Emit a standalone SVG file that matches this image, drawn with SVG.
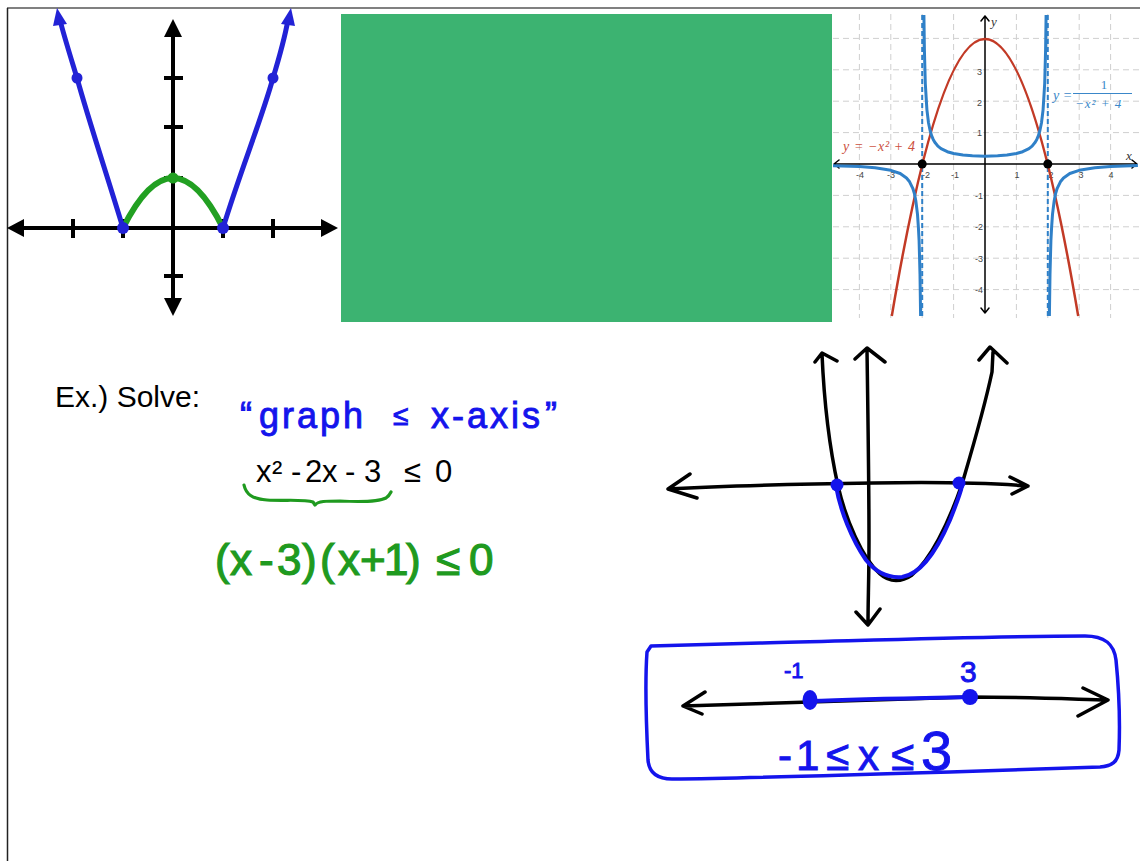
<svg xmlns="http://www.w3.org/2000/svg" width="1140" height="861" viewBox="0 0 1140 861">
<style>
.k{fill:none;stroke:#000;stroke-linecap:round;stroke-linejoin:round}
.ax{fill:none;stroke:#000;stroke-width:4}
.axf{fill:#000}
.gb{fill:none;stroke:#2222d6;stroke-width:5;stroke-linecap:round}
.gbf{fill:#2222d6}
.gg{fill:none;stroke:#22a022;stroke-width:6;stroke-linecap:round}
.grid{stroke:#cfcfcf;stroke-width:1;stroke-dasharray:6 4}
.red{fill:none;stroke:#c23a26;stroke-width:2.5}
.blu{fill:none;stroke:#2f80c8;stroke-width:3;stroke-linejoin:round}
.asy{stroke:#2f80c8;stroke-width:2;stroke-dasharray:5 3}
.tick{font-family:"Liberation Sans",Arial,sans-serif;font-size:9px;fill:#444}
.hb{fill:none;stroke:#1414ec;stroke-linecap:round;stroke-linejoin:round}
.hbt{font-family:"Liberation Sans",Arial,sans-serif;fill:#1414ec;stroke:#1414ec;stroke-width:0.9}
.hgt{font-family:"Liberation Sans",Arial,sans-serif;fill:#1f9a1f;stroke:#1f9a1f;stroke-width:1.2}
.prt{font-family:"Liberation Sans",Arial,sans-serif;fill:#000}
.ser{font-family:"Liberation Serif","Times New Roman",serif}
</style>
<defs>
<clipPath id="clipR"><rect x="833" y="14" width="307" height="304"/></clipPath>
</defs>
<rect width="1140" height="861" fill="#fff"/>
<g id="page-border">
<line x1="7" y1="8" x2="1140" y2="8" stroke="#808080" stroke-width="2"/>
<line x1="7.5" y1="8" x2="7.5" y2="861" stroke="#222" stroke-width="1.5"/>
</g>
<g id="graph-abs">
<path class="ax" d="M16,228 H330 M173,28 V308"/>
<polygon class="axf" points="7,228 24,219 24,237"/>
<polygon class="axf" points="338,228 321,219 321,237"/>
<polygon class="axf" points="173,19 164,37 182,37"/>
<polygon class="axf" points="173,316 164,298 182,298"/>
<path class="ax" stroke-width="3" d="M73,219 V238 M123,219 V238 M223,219 V238 M273,219 V238 M164,78 H183 M164,127 H183 M164,178 H183 M164,276 H183"/>
<path class="gg" d="M123,228 Q173,128 223,228"/>
<path class="gb" d="M123,228 C106,172 88,118 77,78 C70,55 64,36 60,20 M223,228 C240,172 262,118 273,78 C280,55 285,36 288,20"/>
<polygon class="gbf" points="57,8 53,26 67,24"/>
<polygon class="gbf" points="291,8 295,26 281,24"/>
<circle class="gbf" cx="123" cy="228" r="6"/>
<circle class="gbf" cx="223" cy="228" r="6"/>
<circle class="gbf" cx="77" cy="78" r="5.5"/>
<circle class="gbf" cx="273" cy="78" r="5.5"/>
<circle fill="#22a022" cx="173" cy="178" r="5.5"/>
</g>
<g id="green-panel">
<rect x="341" y="14" width="491" height="308" fill="#3cb371"/>
</g>
<g id="graph-reciprocal" clip-path="url(#clipR)">
<path class="grid" d="M859.4,14 V318 M890.8,14 V318 M922.2,14 V318 M953.6,14 V318 M1016.4,14 V318 M1047.8,14 V318 M1079.2,14 V318 M1110.6,14 V318 M833,38.4 H1140 M833,69.8 H1140 M833,101.2 H1140 M833,132.6 H1140 M833,195.4 H1140 M833,226.8 H1140 M833,258.2 H1140 M833,289.6 H1140"/>
<path class="k" stroke-width="1.5" d="M834,164 H1137 M985,16 V313 M839,160 L834,164 L839,168 M1132,160 L1137,164 L1132,168 M981,21 L985,16 L989,21 M981,308 L985,313 L989,308"/>
<g class="tick" text-anchor="middle">
<text x="860" y="178">-4</text><text x="891" y="178">-3</text><text x="926" y="178">-2</text><text x="955" y="178">-1</text>
<text x="1017" y="178">1</text><text x="1051" y="178">2</text><text x="1081" y="178">3</text><text x="1111" y="178">4</text>
</g>
<g class="tick" text-anchor="end">
<text x="982" y="75">3</text><text x="982" y="106">2</text><text x="982" y="136">1</text>
<text x="983" y="199">-1</text><text x="983" y="230">-2</text><text x="983" y="262">-3</text><text x="983" y="293">-4</text>
</g>
<text class="ser" x="991" y="26" font-style="italic" font-size="13" fill="#333">y</text>
<text class="ser" x="1126" y="160" font-style="italic" font-size="13" fill="#333">x</text>
<line class="asy" x1="922.2" y1="15" x2="922.2" y2="316"/>
<line class="asy" x1="1047.8" y1="15" x2="1047.8" y2="316"/>
<path class="red" d="M891.8,316 Q985,-238.2 1078.2,316"/>
<polyline class="blu" points="923.9,15 924.4,49.9 925.3,83.5 926.9,109.6 928.5,122.7 930.1,130.5 931.6,135.7 933.2,139.4 934.8,142.2 937.9,146.1 941,148.6 947.3,151.7 953.6,153.5 963,155.1 972.4,155.8 985,156.2 997.6,155.8 1007,155.1 1016.4,153.5 1022.7,151.7 1029,148.6 1032.1,146.1 1035.2,142.2 1036.8,139.4 1038.4,135.7 1039.9,130.5 1041.5,122.7 1043.1,109.6 1044.7,83.5 1045.6,49.9 1046.1,15"/>
<polyline class="blu" points="832.1,165.6 859.4,166.6 875.1,167.8 890.8,170.3 900.2,173.5 906.5,178 909.6,181.8 912.8,188.3 914.4,193.5 915.9,201.4 917.5,214.4 918.4,227.5 919.1,240.6 920,274.2 920.6,316"/>
<polyline class="blu" points="1137.9,165.6 1110.6,166.6 1094.9,167.8 1079.2,170.3 1069.8,173.5 1063.5,178 1060.4,181.8 1057.2,188.3 1055.6,193.5 1054.1,201.4 1052.5,214.4 1051.6,227.5 1050.9,240.6 1050,274.2 1049.4,316"/>
<circle cx="922.2" cy="164" r="4.5" fill="#000"/>
<circle cx="1047.8" cy="164" r="4.5" fill="#000"/>
<text class="ser" x="843" y="151" font-style="italic" font-size="14" letter-spacing="0.6" fill="#cc5040">y = −x² + 4</text>
<text class="ser" x="1053" y="100" font-style="italic" font-size="14" fill="#3a87c9">y =</text>
<text class="ser" x="1104" y="89" font-size="13" fill="#3a87c9" text-anchor="middle">1</text>
<line x1="1073" y1="93.5" x2="1132" y2="93.5" stroke="#3a87c9" stroke-width="1"/>
<text class="ser" x="1075" y="108" font-style="italic" font-size="13" letter-spacing="1" fill="#3a87c9">−x² + 4</text>
</g>
<g id="problem-text">
<text class="prt" x="55" y="407" font-size="30">Ex.) Solve:</text>
<text class="hbt" y="428" font-size="36" letter-spacing="3"><tspan x="240">“</tspan><tspan x="259">graph </tspan><tspan x="393" font-size="28" y="425">≤ </tspan><tspan x="431" y="428">x-axis</tspan><tspan x="545">”</tspan></text>
<text class="prt" y="482" font-size="31" x="256 272 283 291 301 305 322 338 345 355 364 382 404 423 435">x² - 2x - 3 ≤ 0</text>
<path fill="none" stroke="#1f9a1f" stroke-width="3.2" stroke-linecap="round" stroke-linejoin="round" d="M244,485 C246,494 252,499 267,500 C285,501 305,499 313,502 L315,505 C318,501 326,501 340,501 C360,502 378,502 386,498 C389,496 390,494 391,492"/>
<text class="hgt" y="575" font-size="44" x="215 230 259 277 302 320 338 360 384 406 421 436 460 469">(x-3)(x+1) ≤ 0</text>
</g>
<g id="sketch-parabola">
<path class="k" stroke-width="3.5" d="M668,489 C720,486 800,484 873,483 C930,482 990,483 1028,486 M690,474 L668,489 L697,498 M1010,477 L1028,486 L1012,494"/>
<path class="k" stroke-width="3.5" d="M867,350 C868,420 869,480 869,540 C869,580 868,600 868,624 M855,359 L867,348 L885,362 M856,612 L868,625 L880,609"/>
<path class="k" stroke-width="3.5" d="M822,354 C824,400 830,450 838,486 C846,520 862,558 880,574 C890,583 902,582 912,575 C930,560 948,525 962,484 C972,450 984,410 992,372 L993,352 M815,362 L822,353 L837,361 M979,360 L990,347 L1007,363"/>
<path class="hb" stroke-width="4" d="M836,486 C840,510 852,540 866,560 C878,575 890,578 902,577 C918,575 935,555 950,520 C956,505 960,495 962,486"/>
<circle cx="837" cy="485" r="6.5" fill="#1414ec"/>
<circle cx="959" cy="483" r="6.5" fill="#1414ec"/>
</g>
<g id="number-line-box">
<path class="hb" stroke-width="3.5" d="M651,646 L760,643 C880,640 1000,636 1085,636 C1105,636 1114,644 1116,660 C1119,690 1120,725 1119,750 C1118,762 1112,766 1100,767 L950,772 C850,775 750,778 672,779 C656,779 649,772 648,760 C646,720 645,680 647,652 Z"/>
<path class="k" stroke-width="3.5" d="M683,706 C740,704 780,703 810,702 L970,697 C1020,697 1070,699 1108,700 M705,692 L683,706 L702,714 M1083,688 L1108,700 L1078,716"/>
<path class="hb" stroke-width="4" d="M810,701 C860,699 920,698 970,697"/>
<ellipse cx="810" cy="700" rx="7.5" ry="10" fill="#1414ec"/>
<circle cx="970" cy="697" r="8" fill="#1414ec"/>
<text class="hbt" x="784" y="678" font-size="22">-1</text>
<text class="hbt" x="960" y="682" font-size="30">3</text>
<text class="hbt" y="770" font-size="42" x="778 796 818 826 848 858 880 891 906">-1 ≤ x ≤ <tspan x="921" font-size="56">3</tspan></text>
</g>
</svg>
